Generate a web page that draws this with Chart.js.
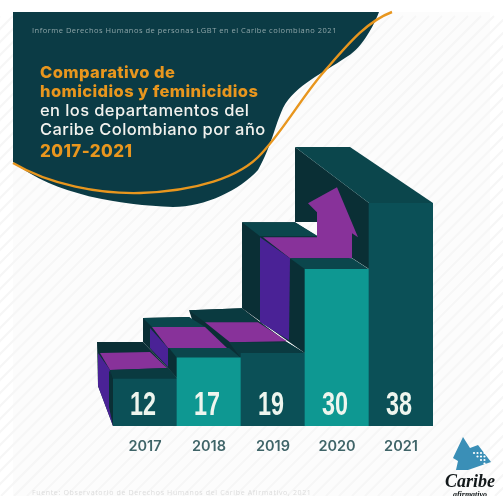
<!DOCTYPE html>
<html>
<head>
<meta charset="utf-8">
<style>
  html, body { margin: 0; padding: 0; background: #fff; }
  canvas { display: block; filter: blur(0.5px); }
</style>
<script src="https://cdn.jsdelivr.net/npm/chart.js@4"></script>
</head>
<body>
<canvas id="mycanvas" width="503" height="496"></canvas>
<script>
var years = ['2017', '2018', '2019', '2020', '2021'];
// printed totals
var totals = [12, 17, 19, 30, 38];
// the bars in the picture are not to scale, these are the heights as drawn (in units of the 2021 bar)
var drawnHeights = [8, 11.6, 12.4, 26.7, 38];
var frontColors = ['#0b5057', '#0e9892', '#0b5057', '#0e9892', '#0b5057'];

var titleLines = [
  { text: 'Comparativo de', color: '#e8961e', weight: 800, size: 16.5, y: 78 },
  { text: 'homicidios y feminicidios', color: '#e8961e', weight: 800, size: 16.5, y: 97 },
  { text: 'en los departamentos del', color: '#f2f2ee', weight: 500, size: 16.5, y: 116 },
  { text: 'Caribe Colombiano por año', color: '#f2f2ee', weight: 500, size: 16.5, y: 135 },
  { text: '2017-2021', color: '#e8961e', weight: 800, size: 17, y: 157 }
];

var TOP = '#0b464c', MID = '#0a3a40', DARK = '#0a2f35', PURPLE = '#88329a', VIOLET = '#4a2296';

// 3d faces behind the bars, offsets from the top left corner of bar i, back to front
var faces = [
  { i: 4, c: DARK, p: [[-74,-56],[0,0],[0,66],[-17,55],[-51,19],[-74,19]] },
  { i: 4, c: TOP, p: [[-74,-56],[-19,-56],[64,0],[0,0]] },
  { i: 3, c: DARK, p: [[-63,-47],[-10,-47],[47,-11],[0,0],[0,84],[-63,39]] },
  { i: 3, c: TOP, p: [[-63,-47],[-10,-47],[13,-33],[-45,-33]] },
  { i: 3, c: PURPLE, p: [[-42,-32],[12,-32],[12,-57],[3,-66],[32,-82],[53,-32],[47,-36],[47,-11],[-15,-11]] },
  { i: 3, c: VIOLET, p: [[-45,-32],[-15,-11],[-16,71],[-45,53]] },
  { i: 3, c: TOP, p: [[-15,-11],[47,-11],[64,0],[0,0]] },
  { i: 2, c: DARK, p: [[-52,-43],[1,-45],[46,-11],[64,0],[0,5],[-36,5]] },
  { i: 2, c: MID, p: [[-52,-43],[1,-45],[17,-31],[-36,-31]] },
  { i: 2, c: PURPLE, p: [[-36,-31],[17,-31],[46,-12],[-11,-11]] },
  { i: 2, c: MID, p: [[-12,-11],[46,-11],[64,0],[0,5]] },
  { i: 1, c: DARK, p: [[-34,-40],[12,-41],[52,-10],[64,0],[0,20],[-34,-16]] },
  { i: 1, c: TOP, p: [[-34,-40],[12,-41],[28,-31],[-25,-31]] },
  { i: 1, c: PURPLE, p: [[-25,-31],[28,-31],[50,-10],[-9,-10]] },
  { i: 1, c: VIOLET, p: [[-27,-30],[-9,-10],[-9,9],[-27,-10]] },
  { i: 1, c: TOP, p: [[-8,-10],[52,-10],[64,0],[0,0]] },
  { i: 0, c: DARK, p: [[-16,-37],[30,-37],[65,0],[0,47],[-15,7]] },
  { i: 0, c: PURPLE, p: [[-13,-26],[37,-27],[54,-11],[-3,-9]] },
  { i: 0, c: VIOLET, p: [[-15,-26],[-3,-9],[0,47],[-15,7]] },
  { i: 0, c: DARK, p: [[-4,-9],[0,0],[0,47],[-4,28]] },
  { i: 0, c: MID, p: [[-3,-9],[55,-11],[65,0],[0,0]] }
];

function drawBackdrop(ctx) {
  ctx.save();
  ctx.fillStyle = '#fff';
  ctx.fillRect(0, 0, 503, 496);
  ctx.fillStyle = '#fcfcfc';
  ctx.fillRect(13, 12, 477, 484);
  // faint stripes of the paper
  ctx.strokeStyle = '#f6f6f6';
  ctx.lineWidth = 2;
  for (var k = -480; k < 520; k += 13) {
    ctx.beginPath();
    ctx.moveTo(k, 496);
    ctx.lineTo(k + 240, 256);
    ctx.lineTo(k + 480, 496 - 480);
    ctx.stroke();
  }
  // header blob
  ctx.fillStyle = '#0b3b45';
  ctx.beginPath();
  ctx.moveTo(13, 12);
  ctx.lineTo(379, 12);
  ctx.bezierCurveTo(372, 30, 360, 50, 345, 58);
  ctx.bezierCurveTo(325, 72, 295, 85, 283, 108);
  ctx.bezierCurveTo(274, 128, 272, 145, 258, 170);
  ctx.bezierCurveTo(240, 190, 205, 207, 173, 207);
  ctx.bezierCurveTo(120, 205, 55, 195, 13, 162);
  ctx.closePath();
  ctx.fill();
  // orange line
  ctx.strokeStyle = '#e8961e';
  ctx.lineWidth = 2.4;
  ctx.beginPath();
  ctx.moveTo(13, 163);
  ctx.bezierCurveTo(50, 185, 100, 194, 140, 193);
  ctx.bezierCurveTo(195, 191, 240, 178, 262, 153);
  ctx.bezierCurveTo(285, 128, 300, 100, 322, 74);
  ctx.bezierCurveTo(345, 48, 365, 22, 392, 12);
  ctx.stroke();
  // header texts
  ctx.textAlign = 'left';
  ctx.textBaseline = 'alphabetic';
  ctx.fillStyle = '#8fa6a9';
  ctx.font = '7.5px "Open Sans"';
  ctx.letterSpacing = '0.5px';
  ctx.fillText('Informe Derechos Humanos de personas LGBT en el Caribe colombiano 2021', 32, 33);
  ctx.letterSpacing = '0.4px';
  titleLines.forEach(function (l) {
    ctx.fillStyle = l.color;
    ctx.font = l.weight + ' ' + l.size + 'px Inter';
    ctx.fillText(l.text, 40, l.y);
  });
  // footer and logo
  ctx.fillStyle = '#dcdcdc';
  ctx.font = '7px "Open Sans"';
  ctx.letterSpacing = '0.65px';
  ctx.fillText('Fuente: Observatorio de Derechos Humanos del Caribe Afirmativo, 2021', 32, 495);
  ctx.letterSpacing = '0px';
  ctx.fillStyle = '#3a8fb7';
  ctx.beginPath();
  ctx.moveTo(463, 437);
  ctx.lineTo(470, 448);
  ctx.lineTo(478, 445);
  ctx.lineTo(491, 462);
  ctx.lineTo(468, 470);
  ctx.lineTo(456, 470);
  ctx.lineTo(458, 461);
  ctx.lineTo(453, 458);
  ctx.closePath();
  ctx.fill();
  ctx.fillStyle = '#fff';
  for (var a = 0; a < 4; a++) {
    for (var b = 0; b <= a; b++) {
      ctx.beginPath();
      ctx.arc(474 + a * 3.5, 453 + b * 3.5, 1.1, 0, Math.PI * 2);
      ctx.fill();
    }
  }
  ctx.fillStyle = '#12181a';
  ctx.textAlign = 'center';
  ctx.font = 'italic bold 18px "Liberation Serif"';
  ctx.fillText('Caribe', 470, 487);
  ctx.font = 'italic bold 8px "Liberation Serif"';
  ctx.fillText('afirmativo', 470, 497);
  ctx.restore();
}

var stairs = {
  id: 'stairs',
  beforeDraw: function (chart) {
    drawBackdrop(chart.ctx);
  },
  beforeDatasetsDraw: function (chart) {
    var ctx = chart.ctx;
    var bars = chart.getDatasetMeta(0).data;
    faces.forEach(function (f) {
      var b = bars[f.i];
      var left = b.x - b.width / 2;
      ctx.fillStyle = f.c;
      ctx.beginPath();
      f.p.forEach(function (q, n) {
        if (n === 0) ctx.moveTo(left + q[0], b.y + q[1]);
        else ctx.lineTo(left + q[0], b.y + q[1]);
      });
      ctx.closePath();
      ctx.fill();
    });
  },
  afterDatasetsDraw: function (chart) {
    var ctx = chart.ctx;
    var bars = chart.getDatasetMeta(0).data;
    ctx.save();
    ctx.fillStyle = '#eef5ee';
    ctx.textAlign = 'center';
    ctx.textBaseline = 'alphabetic';
    ctx.font = 'bold 34px "Liberation Sans"';
    bars.forEach(function (b, i) {
      // the printed numerals are condensed, the max width squeezes them
      ctx.fillText(String(totals[i]), b.x - 2, b.base - 11, 26);
    });
    ctx.restore();
  }
};

new Chart(document.getElementById('mycanvas'), {
  type: 'bar',
  data: {
    labels: years,
    datasets: [{
      label: 'Homicidios y feminicidios',
      data: drawnHeights,
      backgroundColor: frontColors,
      borderWidth: 0,
      categoryPercentage: 1,
      barPercentage: 1
    }]
  },
  options: {
    responsive: false,
    animation: false,
    layout: { padding: { left: 113, right: 70, top: 203, bottom: 30 } },
    plugins: { legend: { display: false }, tooltip: { enabled: false }, title: { display: false } },
    scales: {
      x: {
        grid: { display: false },
        border: { display: false },
        ticks: { color: '#3f6468', font: { family: 'Inter', weight: 600, size: 14.5 }, padding: 4, maxRotation: 0 },
        afterFit: function (scale) { scale.height = 40; }
      },
      y: { display: false, min: 0, max: 38 }
    }
  },
  plugins: [stairs]
});
</script>
</body>
</html>
